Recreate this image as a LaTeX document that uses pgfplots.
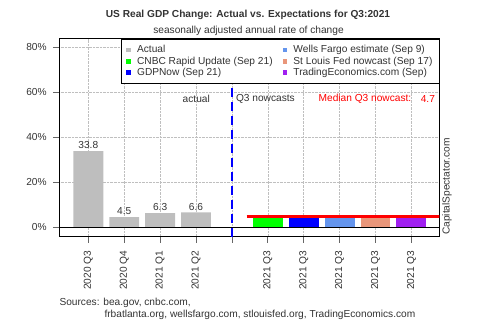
\documentclass[border=0pt]{standalone}
\usepackage{pgfplots}
\pgfplotsset{compat=1.18}
\usepackage{fontspec}
\setmainfont{Liberation Sans}
\definecolor{barGray}{HTML}{BEBEBE}
\definecolor{cnbc}{HTML}{00FF00}
\definecolor{gdpnow}{HTML}{0000FF}
\definecolor{wells}{HTML}{6495ED}
\definecolor{stl}{HTML}{E9967A}
\definecolor{te}{HTML}{A020F0}
\definecolor{txt}{HTML}{333333}
\begin{document}
\begin{tikzpicture}[x=1bp,y=1bp]
\useasboundingbox (0,0) rectangle (500,333);
\pgfplotsset{sqlegend/.style={legend image code/.code={\fill[##1] (0bp,-2.3bp) rectangle (4.6bp,2.3bp); \path (8.8bp,0bp);}}}
\begin{axis}[
  at={(59.3bp,96.3bp)}, anchor=south west,
  scale only axis, width=380bp, height=198.2bp,
  xmin=-0.808, xmax=9.777, ymin=-4.18, ymax=83.9,
  font=\fontsize{10.2}{12}\selectfont,
  /pgf/number format/assume math mode=true,
  axis line style={black, line width=0.8bp},
  tick pos=left, tick align=outside,
  major tick length=6bp,
  tick style={black!60, line width=0.8bp},
  xtick={0,1,2,3,4,5,6,7,8,9},
  xticklabels={2020 Q3,2020 Q4,2021 Q1,2021 Q2,,2021 Q3,2021 Q3,2021 Q3,2021 Q3,2021 Q3},
  xticklabel style={rotate=90, anchor=east, inner sep=0pt, text=txt, xshift=-8bp},
  ytick={0,20,40,60,80},
  yticklabels={0\%,20\%,40\%,60\%,80\%},
  yticklabel style={text=txt, inner sep=0pt, xshift=-6.5bp},
  grid=major,
  major grid style={densely dotted, black!25, line width=0.6bp},
  ybar, bar width=0.833, bar shift=0pt,
  legend columns=2,
  legend cell align=left,
  legend style={at={(rel axis cs:1,1)}, anchor=north east,
    draw=black, line width=0.8bp, font=\fontsize{10.2}{12}\selectfont,
    inner xsep=4.5bp, inner ysep=4.5bp, row sep=-1.4bp,
    /tikz/every even column/.append style={column sep=8bp},
    text=txt},
]
\addplot[ybar, fill=barGray, draw=none, sqlegend,
  nodes near coords, nodes near coords style={text=txt, font=\fontsize{10.2}{12}\selectfont, inner sep=2pt}]
  coordinates {(0,33.8) (1,4.5) (2,6.3) (3,6.6)};
\addlegendentry{Actual}
\addplot[ybar, fill=wells, draw=none, sqlegend] coordinates {(7,4.5)};
\addlegendentry{Wells Fargo estimate (Sep 9)}
\addplot[ybar, fill=cnbc, draw=none, sqlegend] coordinates {(5,4.6)};
\addlegendentry{CNBC Rapid Update (Sep 21)}
\addplot[ybar, fill=stl, draw=none, sqlegend] coordinates {(8,5.5)};
\addlegendentry{St Louis Fed nowcast (Sep 17)}
\addplot[ybar, fill=gdpnow, draw=none, sqlegend] coordinates {(6,4.0)};
\addlegendentry{GDPNow (Sep 21)}
\addplot[ybar, fill=te, draw=none, sqlegend] coordinates {(9,4.7)};
\addlegendentry{TradingEconomics.com (Sep)}
\addplot[sharp plot, black, line width=0.8bp, forget plot] coordinates {(-0.808,0) (9.777,0)};
\addplot[sharp plot, red, line width=2.6bp, forget plot] coordinates {(4.41,4.7) (9.9,4.7)};
\addplot[sharp plot, blue, line width=1.8bp, dash pattern=on 9bp off 5bp, forget plot] coordinates {(4,-4.18) (4,83.9)};
\node[anchor=east, text=txt, inner sep=0pt] at (axis cs:3.39,57) {actual};
\node[anchor=west, text=txt, inner sep=0pt] at (axis cs:4.11,57) {Q3 nowcasts};
\node[anchor=west, text=red, inner sep=0pt] at (axis cs:6.41,57) {Median Q3 nowcast:};
\node[anchor=east, text=red, inner sep=0pt] at (axis cs:9.66,57) {4.7};
\end{axis}
\node[font=\bfseries\fontsize{10.2}{12}\selectfont, text=txt] at (248,318) {US Real GDP Change: Actual vs. Expectations for Q3:2021};
\node[font=\fontsize{10.2}{12}\selectfont, text=txt] at (248.5,302) {seasonally adjusted annual rate of change};
\node[font=\fontsize{10.2}{12}\selectfont, text=txt, anchor=west, inner sep=0pt] at (59.3,30) {Sources: bea.gov, cnbc.com,};
\node[font=\fontsize{10.2}{12}\selectfont, text=txt, anchor=west, inner sep=0pt] at (104.3,18) {frbatlanta.org, wellsfargo.com, stlouisfed.org, TradingEconomics.com};
\node[font=\fontsize{10.2}{12}\selectfont, text=txt, anchor=west, rotate=90, inner sep=0pt] at (447,98) {CapitalSpectator.com};
\end{tikzpicture}
\end{document}
